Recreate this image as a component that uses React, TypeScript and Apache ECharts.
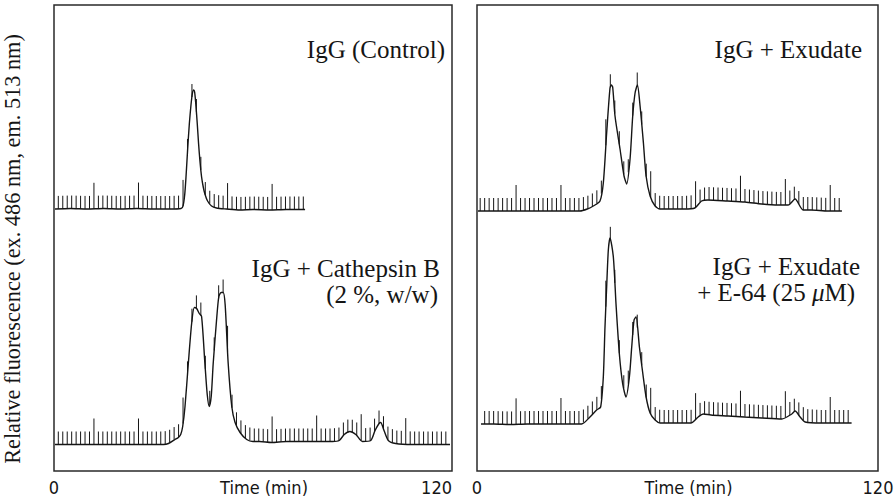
import React, { useEffect, useRef } from "react";
import * as echarts from "echarts";

// ---------- Data (time in min, fluorescence above each trace's baseline, arbitrary units) ----------
const X_MIN = 0;
const X_MAX = 120;
const X_AXIS_NAME = "Time (min)";
const Y_AXIS_NAME = "Relative fluorescence (ex. 486 nm, em. 513 nm)";

// IgG (Control) — left panel, upper trace
const controlTime = [0.3, 5, 10, 15, 20, 25, 30, 35, 38.3, 38.9, 39.4, 39.8, 40.3, 40.8, 41.3, 41.7, 42.1, 42.4, 42.8, 43.2, 43.6, 44.0, 44.5, 45.0, 45.5, 46.3, 47.5, 49.0, 52, 56, 60, 65, 70, 75.7];
const controlSignal = [0, 0.5, 0, 0.5, 0, 0.5, 0, 0, 0.5, 3, 14, 32, 60, 85, 104, 115, 119, 117, 103, 85, 65, 48, 32, 22, 15, 8, 3, 1, 0, -1, -0.5, -1, -0.5, -0.5];
const CONTROL_OFFSET = 262;

// IgG + Cathepsin B (2 %, w/w) — left panel, lower trace
const cathepsinTime = [0.3, 5, 10, 15, 20, 25, 30, 33, 34.5, 36.5, 37.5, 38.2, 38.8, 39.5, 40.5, 41.5, 42.3, 43.0, 43.8, 44.5, 45.5, 46.2, 46.8, 47.4, 48.0, 49.0, 49.7, 50.4, 51.0, 51.6, 52.5, 53.6, 54.6, 56.1, 58.1, 60, 62, 65.6, 70, 75, 80, 84, 86, 87.5, 89.2, 91, 93, 95.5, 96.8, 98.0, 98.5, 99.5, 100.8, 103, 108, 113, 119.4];
const cathepsinSignal = [0, 0, 0, 0, 0, 0, 0, 0, 1, 5, 7, 10, 18, 38, 81, 121, 137, 136, 131, 128, 81, 50, 38, 48, 81, 124, 148, 152, 152, 140, 82, 38, 22, 12, 5, 3, 3, 2, 3, 3, 3, 3, 4, 10, 13, 10, 3, 4, 14, 21, 22, 14, 4, 1, 0, 0, 0];
const CATHEPSIN_OFFSET = 26.5;

// IgG + Exudate — right panel, upper trace
const exudateTime = [0.3, 5, 10, 15, 20, 25, 30.8, 33, 34.8, 36.8, 37.8, 38.8, 39.8, 40.2, 40.6, 41.3, 42.8, 44.0, 44.8, 45.8, 46.6, 47.3, 48.0, 48.8, 49.8, 50.6, 51.8, 53.3, 54.8, 58, 62, 65.2, 67.2, 69.1, 75, 80.2, 85.2, 90.1, 93.1, 95.2, 97.6, 100, 105, 109.2];
const exudateSignal = [0, 0, 0, 0, 0, 0, 0, 2, 5, 10, 28, 78, 123, 126, 124, 95, 62, 35, 27, 52, 95, 118, 126, 105, 68, 35, 15, 5, 2, 2, 2, 3, 10, 11, 10, 9, 7, 6, 6, 12, 1, 1, 0, 0];
const EXUDATE_OFFSET = 260;

// IgG + Exudate + E-64 (25 μM) — right panel, lower trace
const e64Time = [1.2, 5, 10, 15, 20, 25, 29, 31.3, 33.8, 35.8, 37.0, 37.8, 38.3, 38.8, 39.3, 39.8, 40.8, 41.6, 42.6, 43.6, 44.6, 45.6, 46.3, 47.0, 47.6, 48.6, 49.6, 50.6, 51.8, 53.3, 54.8, 60.2, 64, 66.2, 67.7, 70, 75.2, 80, 85.2, 91.2, 94.2, 95.2, 96.7, 98.2, 103, 108, 112.1];
const e64Signal = [0, 0, -0.5, 0, 0, 0, 0, 0, 7, 14, 17, 47, 97, 137, 174, 186, 167, 120, 70, 40, 27, 47, 77, 104, 107, 77, 51, 27, 11, 4, 1, 1, 1, 7, 10, 9, 8, 7, 6, 5, 10, 13, 7, 2, 1, 1, 1];
const E64_OFFSET = 47;

// Fraction-collector event marks (every FRACTION_STEP min, a long mark every 10th)
const LEFT_FRACTION_START = 1.3;
const RIGHT_FRACTION_START = 0.95;
const FRACTION_STEP = 1.343;
const LONG_MARK_PHASE = 8;

// Panel labels
const LABEL_CONTROL = "IgG (Control)";
const LABEL_CATHEPSIN_1 = "IgG + Cathepsin B";
const LABEL_CATHEPSIN_2 = "(2 %, w/w)";
const LABEL_EXUDATE = "IgG + Exudate";
const LABEL_E64_1 = "IgG + Exudate";
const LABEL_E64_2 = "+ E-64 (25 {mu|μ}M)";

// ---------- helpers ----------
type Trace = { t: number[]; v: number[]; off: number };

function interp(tr: Trace, x: number): number {
  const { t, v } = tr;
  if (x <= t[0]) return v[0];
  for (let i = 1; i < t.length; i++) {
    if (x <= t[i]) {
      const f = (x - t[i - 1]) / (t[i] - t[i - 1]);
      return v[i - 1] + f * (v[i] - v[i - 1]);
    }
  }
  return v[v.length - 1];
}

function fractionMarks(start: number, tr: Trace) {
  const out: number[][] = [];
  const tEnd = tr.t[tr.t.length - 1];
  for (let i = 0; ; i++) {
    const x = start + i * FRACTION_STEP;
    if (x > tEnd + 0.01) break;
    if (x < tr.t[0]) continue;
    out.push([x, i % 10 === LONG_MARK_PHASE ? 1 : 0]);
  }
  return out;
}

const INK = "#151515";
const SERIF = '"Liberation Serif", "Times New Roman", serif';
const NARROW = '"Liberation Sans Narrow", "DejaVu Sans Condensed", "Arial Narrow", sans-serif';

export default function App() {
  const ref = useRef<HTMLDivElement>(null);

  useEffect(() => {
    if (!ref.current) return;
    const chart = echarts.init(ref.current, undefined, { renderer: "svg" });

    const traces: { tr: Trace; grid: number; start: number }[] = [
      { tr: { t: controlTime, v: controlSignal, off: CONTROL_OFFSET }, grid: 0, start: LEFT_FRACTION_START },
      { tr: { t: cathepsinTime, v: cathepsinSignal, off: CATHEPSIN_OFFSET }, grid: 0, start: LEFT_FRACTION_START },
      { tr: { t: exudateTime, v: exudateSignal, off: EXUDATE_OFFSET }, grid: 1, start: RIGHT_FRACTION_START },
      { tr: { t: e64Time, v: e64Signal, off: E64_OFFSET }, grid: 1, start: RIGHT_FRACTION_START },
    ];

    const series: any[] = [];
    traces.forEach(({ tr, grid, start }) => {
      series.push({
        type: "line",
        xAxisIndex: grid,
        yAxisIndex: grid,
        data: tr.t.map((x, i) => [x, tr.v[i] + tr.off]),
        showSymbol: false,
        symbol: "none",
        smooth: 0.25,
        lineStyle: { color: INK, width: 1.4 },
        z: 2,
      });
      series.push({
        type: "custom",
        xAxisIndex: grid,
        yAxisIndex: grid,
        data: fractionMarks(start, tr),
        z: 3,
        renderItem: (params: any, api: any) => {
          const x = api.value(0);
          const isLong = api.value(1) === 1;
          const p = api.coord([x, interp(tr, x) + tr.off]);
          const len = isLong ? 26 : 13;
          return {
            type: "line",
            shape: { x1: p[0], y1: p[1], x2: p[0], y2: p[1] - len },
            style: { stroke: INK, lineWidth: 1 },
          };
        },
      });
    });

    const xAxis = (grid: number) => ({
      type: "value",
      gridIndex: grid,
      min: X_MIN,
      max: X_MAX,
      interval: X_MAX - X_MIN,
      name: X_AXIS_NAME,
      nameLocation: "middle",
      nameGap: 7,
      nameMoveOverlap: false,
      nameTextStyle: { fontFamily: NARROW, fontSize: 18, color: INK, padding: [0, 0, 0, 22] },
      axisLine: { show: false },
      axisTick: { show: false },
      splitLine: { show: false },
      axisLabel: {
        show: true,
        margin: 7,
        fontFamily: NARROW,
        fontSize: 18,
        color: INK,
        showMinLabel: true,
        showMaxLabel: true,
        alignMaxLabel: grid === 0 ? "right" : "center",
      },
    });

    const yAxis = (grid: number) => ({
      type: "value",
      gridIndex: grid,
      min: 0,
      max: 466,
      show: true,
      name: grid === 0 ? Y_AXIS_NAME : "",
      nameLocation: "middle",
      nameRotate: 90,
      nameGap: 31,
      nameMoveOverlap: false,
      nameTextStyle: { fontFamily: SERIF, fontSize: 22.3, color: INK, padding: [0, 22, 0, 0] },
      axisLine: { show: false },
      axisTick: { show: false },
      axisLabel: { show: false },
      splitLine: { show: false },
    });

    const labelStyle = (text: string, extra: any = {}) => ({
      text,
      align: "right",
      verticalAlign: "middle",
      fontFamily: SERIF,
      fontSize: 25,
      fill: INK,
      ...extra,
    });

    chart.setOption({
      animation: false,
      backgroundColor: "#ffffff",
      grid: [
        { left: 54, right: 443, top: 5, bottom: 28, show: true, borderColor: "#2a2a2a", borderWidth: 1.5, backgroundColor: "transparent", containLabel: false, outerBoundsMode: "none" },
        { left: 477, right: 17, top: 5, bottom: 28, show: true, borderColor: "#2a2a2a", borderWidth: 1.5, backgroundColor: "transparent", containLabel: false, outerBoundsMode: "none" },
      ],
      xAxis: [xAxis(0), xAxis(1)],
      yAxis: [yAxis(0), yAxis(1)],
      series,
      graphic: [
        { type: "text", x: 445, y: 49, style: labelStyle(LABEL_CONTROL) },
        { type: "text", x: 440, y: 268, style: labelStyle(LABEL_CATHEPSIN_1) },
        { type: "text", x: 438, y: 294, style: labelStyle(LABEL_CATHEPSIN_2) },
        { type: "text", x: 862, y: 49, style: labelStyle(LABEL_EXUDATE) },
        { type: "text", x: 860, y: 266, style: labelStyle(LABEL_E64_1) },
        {
          type: "text",
          x: 855,
          y: 292,
          style: labelStyle(LABEL_E64_2, {
            rich: { mu: { fontFamily: SERIF, fontSize: 25, fontStyle: "italic", fill: INK } },
          }),
        },
      ],
    });

    return () => chart.dispose();
  }, []);

  return <div ref={ref} style={{ position: "fixed", left: 0, top: 0, width: 895, height: 499 }} />;
}
